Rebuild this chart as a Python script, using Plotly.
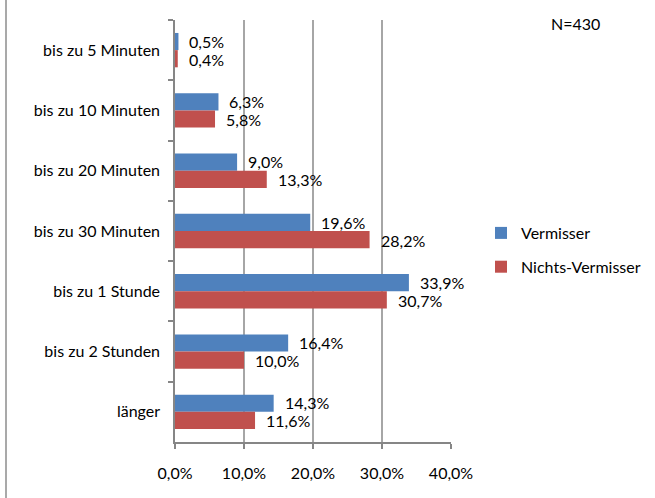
import plotly.graph_objects as go

categories = ["bis zu 5 Minuten", "bis zu 10 Minuten", "bis zu 20 Minuten",
              "bis zu 30 Minuten", "bis zu 1 Stunde", "bis zu 2 Stunden", "länger"]
vermisser = [0.5, 6.3, 9.0, 19.6, 33.9, 16.4, 14.3]
nichts_vermisser = [0.4, 5.8, 13.3, 28.2, 30.7, 10.0, 11.6]
x_ticks = [0, 10, 20, 30, 40]
x_tick_labels = ["0,0%", "10,0%", "20,0%", "30,0%", "40,0%"]
note = "N=430"

BLUE = "#4F81BD"
RED = "#C0504D"
FONT = "Lato"
FS = 16

L, R, T, B = 175, 204, 20, 56
PW, PH = 655 - L - R, 498 - T - B

fig = go.Figure()
fig.add_trace(go.Bar(y=categories, x=vermisser, name="Vermisser", orientation="h",
                     marker=dict(color=BLUE, line=dict(width=0)), legendgroup="a"))
fig.add_trace(go.Bar(y=categories, x=nichts_vermisser, name="Nichts-Vermisser", orientation="h",
                     marker=dict(color=RED, line=dict(width=0)), legendgroup="b"))

def fmt(v):
    return f"{v:.1f}".replace(".", ",") + "%"

for vals, shift in ((vermisser, 9), (nichts_vermisser, -9)):
    for c, v in zip(categories, vals):
        fig.add_annotation(x=v, y=c, text=fmt(v), showarrow=False, xanchor="left",
                           xshift=9, yshift=shift, font=dict(family=FONT, size=FS, color="#000"))

fig.add_annotation(xref="paper", yref="paper", x=(575 - L) / PW, y=1 + (T - 24) / PH,
                   text=note, showarrow=False, xanchor="center", yanchor="middle",
                   font=dict(family=FONT, size=FS, color="#000"))

fig.add_shape(type="line", xref="paper", yref="paper",
              x0=(6 - L) / PW, x1=(6 - L) / PW, y0=-B / PH, y1=1 + T / PH,
              line=dict(color="#8C8C8C", width=1.5))

fig.update_layout(
    width=655, height=498,
    margin=dict(l=L, r=R, t=T, b=B, autoexpand=False),
    paper_bgcolor="white", plot_bgcolor="white",
    barmode="group", bargap=0.43, bargroupgap=0,
    font=dict(family=FONT, size=FS, color="#000"),
    showlegend=True,
    legend=dict(x=(481 - L) / PW, y=1 - (216 - T) / PH, xanchor="left", yanchor="top",
                tracegroupgap=10, font=dict(family=FONT, size=FS), itemwidth=30,
                bgcolor="rgba(0,0,0,0)"),
)
fig.update_xaxes(range=[0, 40], tickvals=x_ticks, ticktext=x_tick_labels,
                 showgrid=True, gridcolor="#A6A6A6", gridwidth=1.5,
                 showline=True, linecolor="#868686", linewidth=1.5,
                 ticks="outside", ticklen=5, tickcolor="#868686", tickwidth=1.5,
                 ticklabelstandoff=11, automargin=False,
                 zeroline=False, fixedrange=True)
fig.update_yaxes(autorange="reversed", showline=True, linecolor="#868686", linewidth=1.5,
                 ticks="outside", ticklen=5, tickcolor="#868686", tickwidth=1.5,
                 tickson="boundaries", showgrid=False, ticklabelstandoff=10,
                 automargin=False, fixedrange=True)

fig.write_html("out.html", config={"displayModeBar": False},
               post_script="document.body.style.margin='0';")
